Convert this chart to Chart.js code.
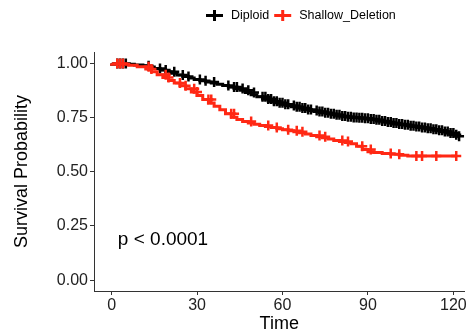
<!DOCTYPE html>
<html>
<head>
<meta charset="utf-8">
<script src="https://cdn.jsdelivr.net/npm/chart.js@4"></script>
<style>
  html, body { margin: 0; padding: 0; background: #fff; }
  #wrap { width: 472px; height: 333px; }
</style>
</head>
<body>
<div id="wrap"><canvas id="km"></canvas></div>
<script>
// Kaplan-Meier curves, values
const dipTime = [0, 8, 11, 13, 15, 17, 19, 21, 23, 25, 27, 29, 31, 33, 35, 37, 39, 41, 43, 45, 47, 49, 51, 53, 55, 57, 59, 61, 63, 65, 67, 69, 71, 73, 75, 77, 79, 81, 83, 85, 87, 89, 91, 93, 95, 97, 99, 101, 103, 105, 107, 109, 111, 113, 115, 117, 119, 121, 122];
const dipSurv = [1, 0.997, 0.993, 0.99, 0.984, 0.977, 0.97, 0.962, 0.955, 0.947, 0.94, 0.933, 0.926, 0.92, 0.915, 0.91, 0.904, 0.898, 0.891, 0.884, 0.876, 0.866, 0.856, 0.846, 0.836, 0.826, 0.819, 0.812, 0.806, 0.8, 0.794, 0.788, 0.783, 0.778, 0.773, 0.768, 0.763, 0.758, 0.754, 0.751, 0.749, 0.747, 0.744, 0.74, 0.735, 0.73, 0.725, 0.721, 0.717, 0.713, 0.709, 0.705, 0.701, 0.697, 0.692, 0.686, 0.679, 0.671, 0.664];
const dipCensor = [2, 3, 4, 5, 13, 17, 19, 22, 25, 27, 31, 33, 36, 41, 43, 44, 46, 48, 50, 53, 54, 55, 56, 57, 58, 59, 60, 61, 62, 64, 65, 66, 67, 68, 69, 70, 72, 73, 74, 75, 76, 77, 78, 79, 80, 81, 82, 83, 84, 85, 86, 87, 88, 89, 90, 91, 92, 93, 94, 95, 96, 97, 98, 99, 100, 101, 102, 103, 104, 105, 106, 107, 108, 109, 110, 111, 112, 113, 114, 115, 116, 117, 118, 119, 120, 121, 122];

const delTime = [0, 6, 9, 12, 14, 16, 18, 20, 22, 24, 26, 28, 30, 32, 34, 36, 38, 40, 42, 44, 46, 48, 50, 52, 54, 56, 58, 60, 62, 64, 66, 68, 70, 72, 74, 76, 78, 80, 82, 84, 86, 88, 90, 92, 95, 98, 101, 104, 107, 121];
const delSurv = [1, 0.996, 0.992, 0.985, 0.975, 0.962, 0.948, 0.935, 0.922, 0.91, 0.897, 0.883, 0.868, 0.852, 0.834, 0.818, 0.803, 0.786, 0.768, 0.752, 0.741, 0.732, 0.725, 0.719, 0.714, 0.709, 0.704, 0.699, 0.694, 0.689, 0.685, 0.68, 0.674, 0.668, 0.662, 0.657, 0.651, 0.645, 0.64, 0.635, 0.63, 0.618, 0.603, 0.593, 0.589, 0.585, 0.581, 0.577, 0.573, 0.573];
const delCensor = [2, 3, 4, 13, 14, 19, 20, 24, 26, 29, 30, 34, 35, 42, 43, 49, 55, 58, 62, 65, 67, 73, 75, 81, 83, 88, 91, 98, 101, 107, 109, 114, 121];

const seriesNames = ['Diploid', 'Shallow_Deletion'];
const seriesColors = ['#000000', 'rgb(255,40,20)'];
const xTicks = [0, 30, 60, 90, 120];
const yTicks = [0, 0.25, 0.5, 0.75, 1];
const pText = 'p < 0.0001';

function pts(t, s) { return t.map((v, i) => ({ x: v, y: s[i] })); }

// survival level at a censored time = last step at or before it
function atTime(times, surv, c) {
  let y = surv[0];
  times.forEach((t, i) => { if (t <= c) y = surv[i]; });
  return { x: c, y };
}

const FONT = "'Liberation Sans', Arial, sans-serif";

// legend at the top + p value inside the plot
const extras = {
  id: 'extras',
  afterDraw(chart) {
    const ctx = chart.ctx;
    ctx.save();
    ctx.font = '12.5px ' + FONT;
    ctx.textBaseline = 'middle';
    ctx.textAlign = 'left';
    let x = 206;
    const y = 15.5;
    seriesNames.forEach((name, i) => {
      ctx.strokeStyle = seriesColors[i];
      ctx.lineWidth = 3;
      ctx.beginPath();
      ctx.moveTo(x, y); ctx.lineTo(x + 17, y);
      ctx.moveTo(x + 8.5, y - 5.5); ctx.lineTo(x + 8.5, y + 5.5);
      ctx.stroke();
      x += 25;
      ctx.fillStyle = '#000';
      ctx.fillText(name, x, y);
      x += ctx.measureText(name).width + 5;
    });

    const sx = chart.scales.x, sy = chart.scales.y;
    ctx.font = '19px ' + FONT;
    ctx.fillText(pText, sx.getPixelForValue(2.2), sy.getPixelForValue(0.185));
    ctx.restore();
  }
};

new Chart(document.getElementById('km'), {
  type: 'line',
  data: {
    datasets: [
      {
        label: seriesNames[1] + ' censored',
        data: delCensor.map(c => atTime(delTime, delSurv, c)),
        showLine: false,
        pointStyle: 'cross',
        pointRadius: 5,
        borderWidth: 2.5,
        borderColor: seriesColors[1],
        order: 0
      },
      {
        label: seriesNames[1],
        data: pts(delTime, delSurv),
        stepped: 'after',
        borderColor: seriesColors[1],
        borderWidth: 3,
        pointRadius: 0,
        order: 1
      },
      {
        label: seriesNames[0] + ' censored',
        data: dipCensor.map(c => atTime(dipTime, dipSurv, c)),
        showLine: false,
        pointStyle: 'cross',
        pointRadius: 5,
        borderWidth: 2.5,
        borderColor: seriesColors[0],
        order: 2
      },
      {
        label: seriesNames[0],
        data: pts(dipTime, dipSurv),
        stepped: 'after',
        borderColor: seriesColors[0],
        borderWidth: 3,
        pointRadius: 0,
        order: 3
      }
    ]
  },
  options: {
    responsive: true,
    maintainAspectRatio: false,
    animation: false,
    events: [],
    layout: { padding: { top: 52, left: 0, right: 0, bottom: 0 } },
    plugins: { legend: { display: false }, tooltip: { enabled: false } },
    scales: {
      x: {
        type: 'linear',
        min: -6.17,
        max: 123.9, // chart area ends ~5px short of the canvas edge
        afterFit: s => { s.height = 42; },
        afterBuildTicks: s => { s.ticks = xTicks.map(v => ({ value: v })); },
        border: { display: true, color: '#333', width: 1 },
        grid: { drawOnChartArea: false, drawTicks: true, tickLength: 4, color: '#333' },
        ticks: { color: '#222', font: { family: FONT, size: 16 }, padding: 1, maxRotation: 0 },
        title: { display: true, text: 'Time', color: '#000', font: { family: FONT, size: 18, lineHeight: 1 }, padding: { top: 0, bottom: 0 } }
      },
      y: {
        type: 'linear',
        min: -0.05,
        max: 1.053,
        afterFit: s => { s.width = 94; },
        afterBuildTicks: s => { s.ticks = yTicks.map(v => ({ value: v })); },
        border: { display: true, color: '#333', width: 1 },
        grid: { drawOnChartArea: false, drawTicks: true, tickLength: 4, color: '#333' },
        ticks: { color: '#222', font: { family: FONT, size: 16 }, padding: 2, callback: v => v.toFixed(2) },
        title: { display: true, text: 'Survival Probability', color: '#000', font: { family: FONT, size: 18, lineHeight: 1 }, padding: { top: 13, bottom: 0 } }
      }
    }
  },
  plugins: [extras]
});
</script>
</body>
</html>
